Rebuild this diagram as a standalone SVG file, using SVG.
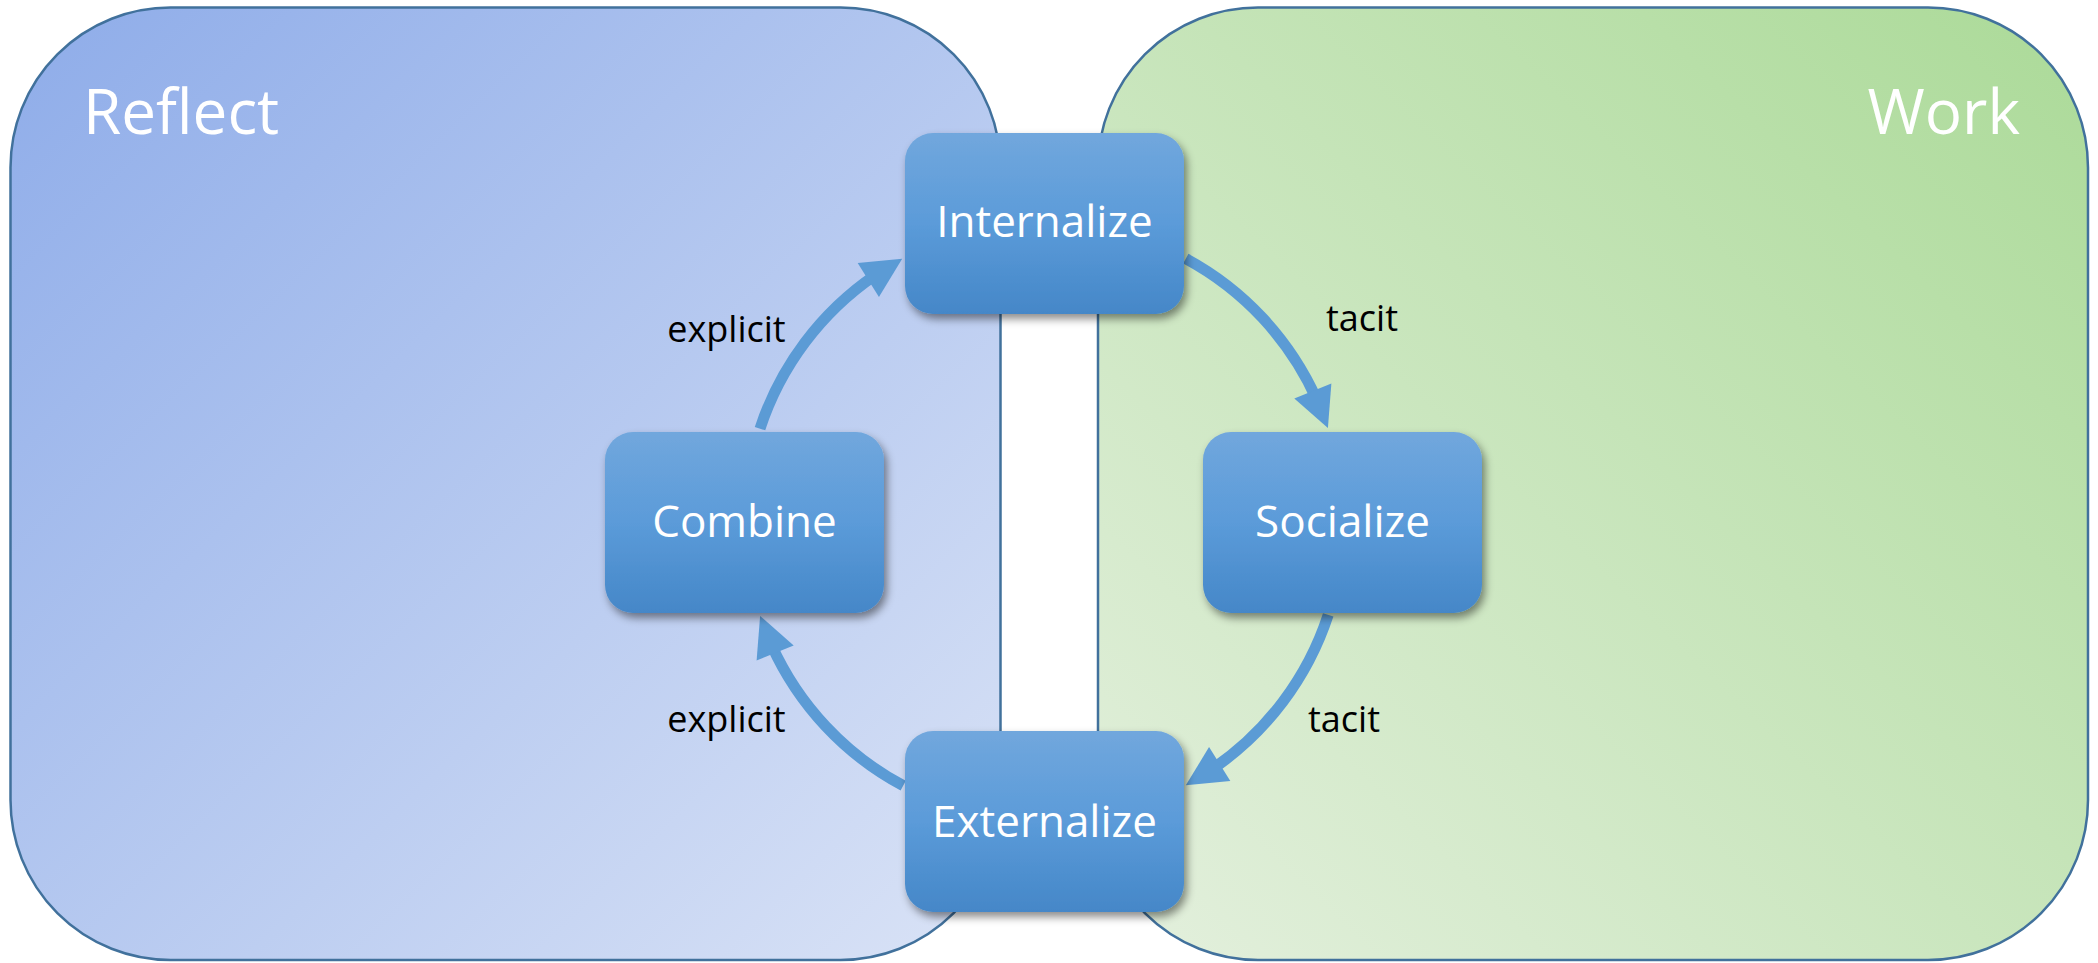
<svg xmlns="http://www.w3.org/2000/svg" xmlns:xlink="http://www.w3.org/1999/xlink" width="2098" height="963" viewBox="0 0 2098 963">
  <style>
    .panel { stroke: #41719c; stroke-width: 2.5; }
    .title { font-family: "Open Sans", "Liberation Sans", sans-serif; font-size: 62px; fill: #ffffff; }
    .node rect { fill: url(#nodeGrad); filter: url(#shadow); }
    .node text { font-family: "Open Sans", "Liberation Sans", sans-serif; font-size: 44px; fill: #ffffff; text-anchor: middle; }
    .shaft { fill: none; stroke: #5b9bd5; stroke-width: 11; stroke-linecap: butt; }
    .head { fill: #5b9bd5; }
    .lbl { font-family: "Open Sans", "Liberation Sans", sans-serif; font-size: 36px; fill: #000000; text-anchor: middle; }
  </style>
  <defs>
    <linearGradient id="reflectGrad" x1="0" y1="0" x2="1" y2="1">
      <stop offset="0" stop-color="#8eace9"/>
      <stop offset="1" stop-color="#dae3f6"/>
    </linearGradient>
    <linearGradient id="workGrad" x1="1" y1="0" x2="0" y2="1">
      <stop offset="0" stop-color="#abda98"/>
      <stop offset="1" stop-color="#e4f0de"/>
    </linearGradient>
    <linearGradient id="nodeGrad" x1="0" y1="0" x2="0" y2="1">
      <stop offset="0" stop-color="#71a7dd"/>
      <stop offset="0.5" stop-color="#5b9bd9"/>
      <stop offset="1" stop-color="#4587c8"/>
    </linearGradient>
    <filter id="shadow" x="-10%" y="-10%" width="125%" height="130%">
      <feDropShadow dx="3" dy="5" stdDeviation="4" flood-color="#000000" flood-opacity="0.45"/>
    </filter>
    <polygon id="arrowHead" class="head" points="0,0 -40,-20 -40,20"/>
  </defs>

  <rect width="2098" height="963" fill="#ffffff"/>

  <g id="panel-reflect">
    <rect class="panel" x="10.5" y="7.5" width="990" height="952.5" rx="160" ry="160" fill="url(#reflectGrad)"/>
    <text class="title" x="83" y="134">Reflect</text>
  </g>
  <g id="panel-work">
    <rect class="panel" x="1098" y="7.5" width="990" height="952.5" rx="160" ry="160" fill="url(#workGrad)"/>
    <text class="title" x="2020" y="134" text-anchor="end">Work</text>
  </g>

  <g id="connectors">
    <path class="shaft" d="M 760,428.6 A 299 299 0 0 1 875.5,275"/>
    <use href="#arrowHead" xlink:href="#arrowHead" transform="translate(902.2,258.7) rotate(-32.1)"/>
    <path class="shaft" d="M 1185.8,258.7 A 299 299 0 0 1 1316.5,399"/>
    <use href="#arrowHead" xlink:href="#arrowHead" transform="translate(1327.9,428.1) rotate(67.9)"/>
    <path class="shaft" d="M 1328.2,614.9 A 299 299 0 0 1 1212.5,769"/>
    <use href="#arrowHead" xlink:href="#arrowHead" transform="translate(1185.8,785.3) rotate(147.9)"/>
    <path class="shaft" d="M 903.2,785.7 A 299 299 0 0 1 771.5,645"/>
    <use href="#arrowHead" xlink:href="#arrowHead" transform="translate(760.1,615.9) rotate(247.9)"/>
    <text class="lbl" x="726.5" y="342">explicit</text>
    <text class="lbl" x="1362" y="331">tacit</text>
    <text class="lbl" x="1344" y="732">tacit</text>
    <text class="lbl" x="726.5" y="732">explicit</text>
  </g>

  <g id="node-internalize" class="node">
    <rect x="905" y="133" width="279" height="181" rx="28" ry="28"/>
    <text x="1044.5" y="237">Internalize</text>
  </g>
  <g id="node-combine" class="node">
    <rect x="605" y="432" width="279" height="181" rx="28" ry="28"/>
    <text x="744.5" y="537">Combine</text>
  </g>
  <g id="node-socialize" class="node">
    <rect x="1203" y="432" width="279" height="181" rx="28" ry="28"/>
    <text x="1342.5" y="537">Socialize</text>
  </g>
  <g id="node-externalize" class="node">
    <rect x="905" y="731" width="279" height="181" rx="28" ry="28"/>
    <text x="1044.5" y="837">Externalize</text>
  </g>
</svg>
